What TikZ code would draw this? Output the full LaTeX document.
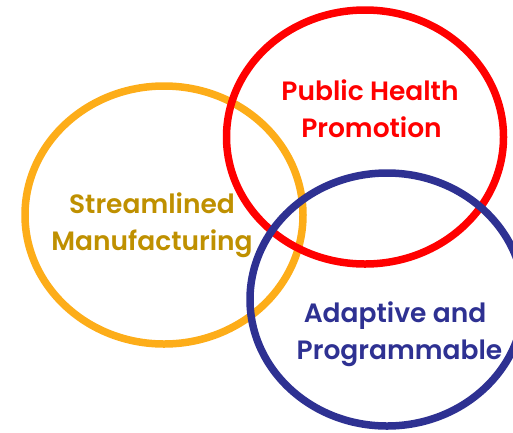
\documentclass[tikz,border=0pt]{standalone}
\usepackage{fontspec}
\setmainfont{Poppins}[UprightFont=* SemiBold]
\definecolor{ringorange}{HTML}{FDAD19}
\definecolor{ringred}{HTML}{FF0000}
\definecolor{ringblue}{HTML}{2E3192}
\definecolor{textgold}{HTML}{BF9000}
\begin{document}
\begin{tikzpicture}[x=1pt,y=-1pt,
  ring/.style={line width=7.5pt},
  lbl/.style={anchor=base,inner sep=0pt,font=\fontsize{26.5}{32}\selectfont}]
\useasboundingbox (0,0) rectangle (513,432);
\draw[ring,ringorange] (164,215) ellipse [x radius=139, y radius=129];
\draw[ring,ringred] (365,137) ellipse [x radius=138.5, y radius=127];
\draw[ring,ringblue] (387,299.5) ellipse [x radius=137, y radius=126.5];
\node[lbl,ringred] (ph1) at (370,100) {Public Health};
\node[lbl,ringred] (ph2) at (371.5,137) {Promotion};
\node[lbl,textgold] (sm1) at (152,213) {Streamlined};
\node[lbl,textgold] (sm2) at (152,250) {Manufacturing};
\node[lbl,ringblue] (ap1) at (395,322) {Adaptive and};
\node[lbl,ringblue] (ap2) at (399.5,359) {Programmable};
\end{tikzpicture}
\end{document}
